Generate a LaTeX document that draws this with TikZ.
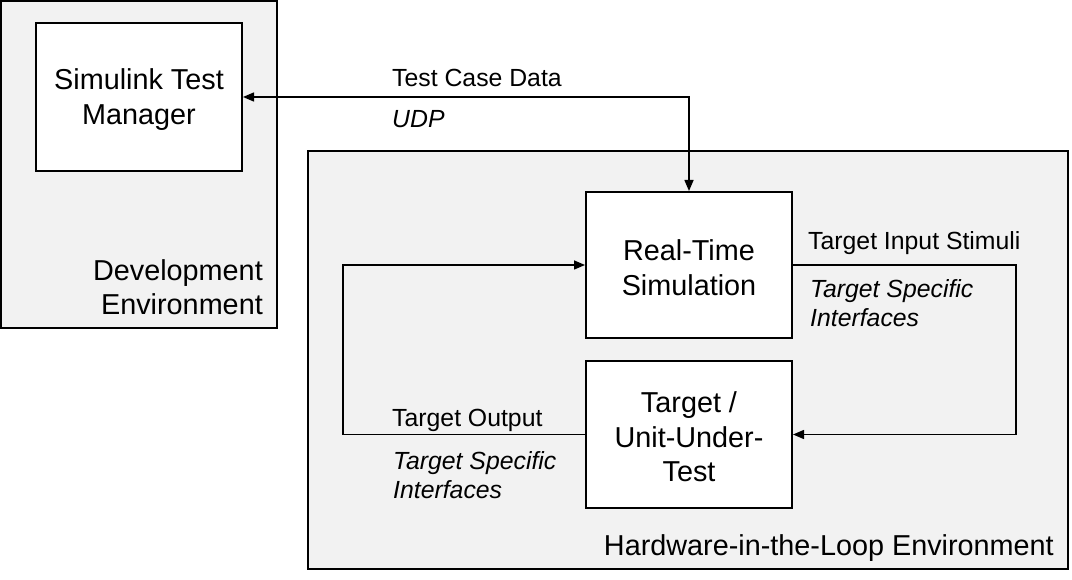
\documentclass[tikz,border=0pt]{standalone}
\usepackage{fontspec}
\setmainfont{Liberation Sans}
\usetikzlibrary{arrows.meta}
\definecolor{envgray}{HTML}{F2F2F2}
\begin{document}
\begin{tikzpicture}[x=1pt,y=-1pt,
  env/.style={draw=black, line width=2pt, fill=envgray, inner sep=0pt},
  blk/.style={draw=black, line width=2pt, fill=white, inner sep=0pt, minimum width=206pt},
  blktext/.style={align=center, inner sep=0pt, yshift=-2.5pt, font=\fontsize{28.8}{34.5}\selectfont},
  lbl/.style={anchor=west, align=left, inner sep=0pt, font=\fontsize{24.8}{29.5}\selectfont},
  ilbl/.style={lbl, font=\fontsize{24.8}{29.5}\selectfont\itshape},
  envlbl/.style={anchor=east, align=right, inner sep=0pt, font=\fontsize{28.8}{34}\selectfont},
  conn/.style={line width=1.5pt, -{Triangle[length=11pt,width=9pt]}}]
\useasboundingbox (0,0) rectangle (1072,580);
% environments
\node[env, minimum width=276pt, minimum height=327pt] (dev) at (139,164.5) {};
\node[env, minimum width=760pt, minimum height=418pt] (hil) at (688,360) {};
\node[envlbl] (devlbl) at (263,287) {Development\\Environment};
\node[envlbl] (hillbl) at (1054,548) {Hardware-in-the-Loop Environment};
% blocks
\node[blk, minimum height=148pt, label={[blktext]center:{Simulink Test\\Manager}}] (stm) at (139,97) {};
\node[blk, minimum height=146pt, label={[blktext]center:{Real-Time\\Simulation}}] (rts) at (689,265) {};
\node[blk, minimum height=147pt, label={[blktext]center:{Target /\\Unit-Under-\\Test}}] (uut) at (689,434.5) {};
% helper coordinates
\coordinate (rc) at (1016,0);
\coordinate (lc) at (343,0);
% connectors
\draw[line width=1.5pt, {Triangle[length=11pt,width=9pt]}-{Triangle[length=11pt,width=9pt]}]
  (stm.east) -| (rts.north);
\draw[conn] (rts.east) -- (rts.east -| rc) |- (uut.east);
\draw[conn] (uut.west) -- (uut.west -| lc) |- (rts.west);
% labels
\node[lbl] (l1) at (392,77.5) {Test Case Data};
\node[ilbl] (l2) at (392,119.5) {UDP};
\node[lbl] (l3) at (808,243.5) {Target Input Stimuli};
\node[ilbl] (l4) at (810,303) {Target Specific\\Interfaces};
\node[lbl] (l5) at (392,420.5) {Target Output};
\node[ilbl] (l6) at (393,475) {Target Specific\\Interfaces};
\end{tikzpicture}
\end{document}
